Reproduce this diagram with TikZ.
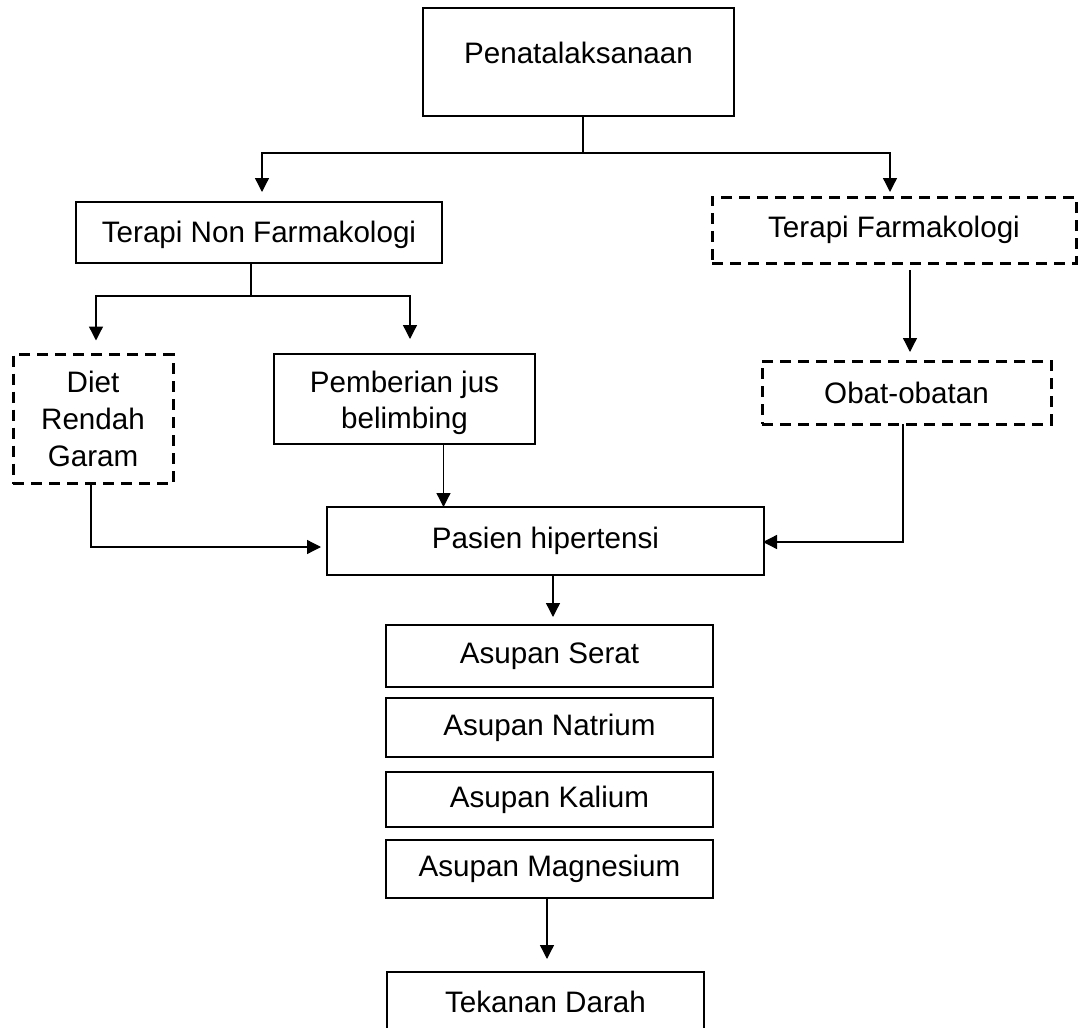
\documentclass[tikz,border=0pt]{standalone}
\usepackage{fontspec}
\setmainfont{Liberation Sans}
\usetikzlibrary{arrows.meta,calc}
\begin{document}
\begin{tikzpicture}[x=0.5pt,y=-0.5pt,
  every node/.style={font=\fontsize{14.8pt}{18.3pt}\selectfont, align=center, inner sep=0pt, outer sep=0pt},
  box/.style={draw, line width=1.4pt},
  dbox/.style={draw, line width=1.5pt, dash pattern=on 5.5pt off 3.5pt},
  line/.style={line width=0.65pt},
  arr/.style={line width=0.65pt, -{Triangle[length=7pt,width=7pt]}}]
\useasboundingbox (0,0) rectangle (1078,1028);
\clip (0,0) rectangle (1078,1028);
% boxes
\node[box, minimum width=155.5pt, minimum height=54pt] (pen) at (578.5,62) {\raisebox{4.5pt}[\height][\depth]{Penatalaksanaan}};
\node[box, minimum width=183pt, minimum height=30.5pt] (tnf) at (259,232.5) {\raisebox{-1pt}[\height][\depth]{Terapi Non Farmakologi}};
\node[dbox, minimum width=182pt, minimum height=33pt] (tf) at (894,230) {Terapi Farmakologi};
\node[dbox, minimum width=80pt, minimum height=64.5pt] (diet) at (93,419) {Diet\\Rendah\\Garam};
\node[box, minimum width=130.5pt, minimum height=45pt] (pjb) at (404.5,399) {};
\node (pjbtext) at (404.5,403) {Pemberian jus\\belimbing};
\node[dbox, minimum width=144.5pt, minimum height=31.5pt] (obat) at (906.5,392.5) {Obat-obatan};
\node[box, minimum width=218.5pt, minimum height=34pt] (pas) at (545.5,541) {Pasien hipertensi};
\node[box, minimum width=163.5pt, minimum height=31pt] (serat) at (549.5,656) {Asupan Serat};
\node[box, minimum width=163.5pt, minimum height=29.5pt] (natr) at (549.5,727.5) {Asupan Natrium};
\node[box, minimum width=163.5pt, minimum height=27.5pt] (kal) at (549.5,799.5) {Asupan Kalium};
\node[box, minimum width=163.5pt, minimum height=29pt] (mag) at (549.5,869) {Asupan Magnesium};
\node[box, minimum width=158.5pt, minimum height=30pt] (tek) at (545.5,1002) {Tekanan Darah};
% junctions
\coordinate (j1) at (583,153);
\coordinate (j2) at (251,296);
\coordinate (p1) at ($(pjb.south)+(39,0)$);
% connectors
\draw[line] (pen.south -| j1) -- (j1);
\draw[arr] (j1) -| ($(tnf.north)+(3,-10)$);
\draw[arr] (j1) -| ($(tf.north)+(-4,-5)$);
\draw[line] (tnf.south -| j2) -- (j2);
\draw[arr] (j2) -| ($(diet.north)+(3,-14)$);
\draw[arr] (j2) -| ($(pjb.north)+(5.5,-15)$);
\draw[arr] ($(tf.south)+(16,7)$) -- ($(obat.north)+(3.5,-9)$);
\draw[arr] (p1) -- (p1 |- pas.north);
\draw[arr] ($(diet.south)+(-2,0)$) |- ($(pas.west)+(-6,6)$);
\draw[arr] ($(obat.south)+(-3.5,0)$) |- ($(pas.east)+(-1,1)$);
\draw[arr] ($(pas.south)+(7.5,0)$) -- ($(serat.north)+(3.5,-8)$);
\draw[arr] ($(mag.south)+(-2.5,0)$) -- ($(tek.north)+(1.5,-13)$);
\end{tikzpicture}
\end{document}
